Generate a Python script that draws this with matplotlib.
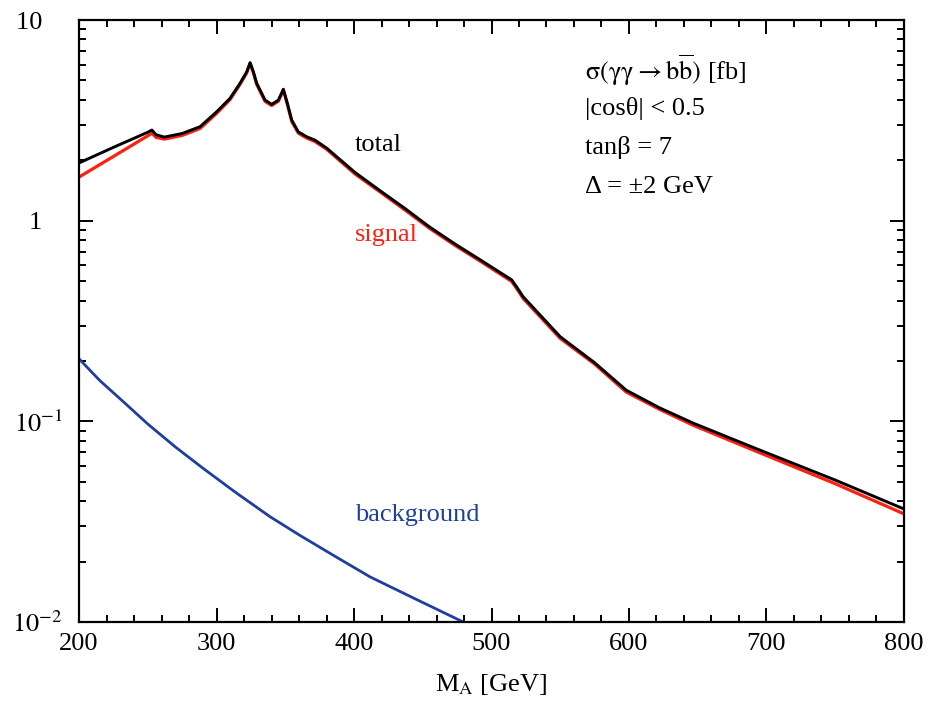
import matplotlib
matplotlib.use("Agg")
import matplotlib.pyplot as plt
from matplotlib.ticker import FixedLocator, FixedFormatter, MultipleLocator, NullFormatter

plt.rcParams["font.family"] = ["Liberation Serif", "DejaVu Serif"]
plt.rcParams["mathtext.fontset"] = "stix"
plt.rcParams["mathtext.default"] = "rm"

# values
mass = [200, 225, 250, 253, 256, 262, 275, 288, 300.1, 309.8,
        317.1, 322, 324.4, 326.8, 329.2, 335.3, 340.1, 345, 348.6, 351.5,
        354.7, 359.5, 365.6, 371.6, 380.1, 400.7, 419, 437.1, 455, 473.5,
        492, 514.7, 519, 523, 550, 575, 598, 622, 647, 695, 750, 800]
total = [1.94, 2.32, 2.76, 2.83, 2.68, 2.61, 2.72, 2.94, 3.49, 4.07,
         4.84, 5.52, 6.13, 5.52, 4.84, 3.99, 3.80, 3.99, 4.52, 3.85,
         3.17, 2.77, 2.62, 2.52, 2.30, 1.74, 1.41, 1.15, 0.93, 0.765,
         0.637, 0.507, 0.46, 0.418, 0.264, 0.196, 0.143, 0.117, 0.0978, 0.072, 0.051, 0.0366]
signal = [1.65, 2.09, 2.65, 2.73, 2.60, 2.55, 2.66, 2.88, 3.43, 4.01,
          4.78, 5.46, 6.08, 5.46, 4.78, 3.93, 3.75, 3.94, 4.47, 3.80,
          3.12, 2.73, 2.58, 2.48, 2.27, 1.71, 1.39, 1.13, 0.915, 0.753,
          0.627, 0.498, 0.452, 0.41, 0.259, 0.193, 0.140, 0.115, 0.0954, 0.0698, 0.0489, 0.0346]

bkg_mass = [200, 215, 233.5, 250, 269.8, 290, 313, 338.9, 360, 385, 411.6, 445, 479.5]
background = [0.205, 0.160, 0.123, 0.097, 0.0748, 0.0585, 0.0447, 0.0335, 0.0272, 0.0215, 0.0168, 0.0130, 0.0100]

ytick_vals = [0.01, 0.1, 1, 10]
ytick_labels = [r"$10^{-2}$", r"$10^{-1}$", "1   ", "10   "]

fig = plt.figure(figsize=(9.3, 7.15), dpi=100)
ax = fig.add_axes([0.085, 0.130, 0.887, 0.842])

ax.plot(mass, signal, color="#ff2010", lw=2.3)
ax.plot(mass, total, color="black", lw=2.1)
ax.plot(bkg_mass, background, color="#1f3f9f", lw=2.0)

ax.set_yscale("log")
ax.set_xlim(200, 800)
ax.set_ylim(0.01, 10)

ax.xaxis.set_major_locator(MultipleLocator(100))
ax.xaxis.set_minor_locator(MultipleLocator(20))
ax.yaxis.set_major_locator(FixedLocator(ytick_vals))
ax.yaxis.set_major_formatter(FixedFormatter(ytick_labels))
ax.yaxis.set_minor_locator(FixedLocator([m * d for d in (0.01, 0.1, 1) for m in range(2, 10)]))
ax.yaxis.set_minor_formatter(NullFormatter())

ax.tick_params(which="both", direction="in", top=True, right=True, labelsize=19, width=1.4)
ax.tick_params(which="major", length=10)
ax.tick_params(which="minor", length=5)
ax.tick_params(axis="x", pad=8)
ax.tick_params(axis="y", pad=12)
for s in ax.spines.values():
    s.set_linewidth(1.6)

ax.set_xlabel(r"M$_{\rm A}$ [GeV]", fontsize=19, labelpad=12)

ax.text(400.7, 2.38, "total", fontsize=19, color="black", va="center")
ax.text(400.7, 0.85, "signal", fontsize=19, color="#ff2010", va="center")
ax.text(400.7, 0.0342, "background", fontsize=19, color="#1f3f9f", va="center")

info = [r"$\sigma(\gamma\gamma \rightarrow b\overline{b})$ [fb]", "|cosθ| < 0.5", "tanβ = 7", "Δ = ±2 GeV"]
for txt, yf in zip(info, [0.917, 0.853, 0.789, 0.723]):
    ax.text(0.613, yf, txt, transform=ax.transAxes, fontsize=19, va="center")

fig.savefig("out.png", dpi=100)
